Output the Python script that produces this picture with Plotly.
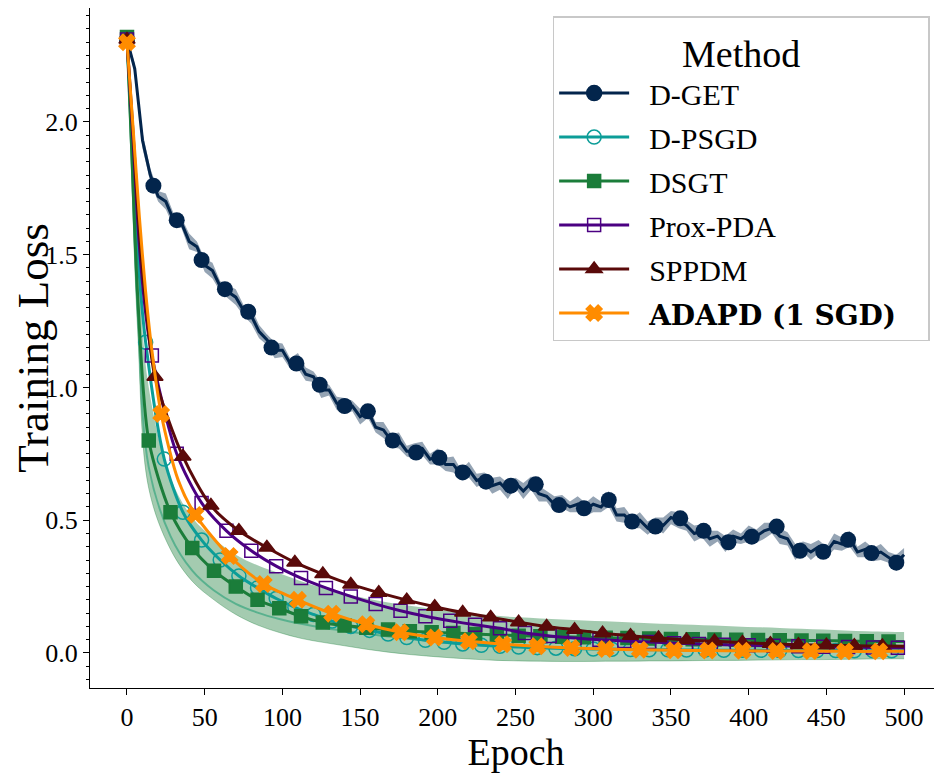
import plotly.graph_objects as go

# ---- data ----
# D-GET (noisy curve, every 5 epochs) and its markers
dget_epochs = list(range(0, 501, 5))
dget_loss = [2.31, 2.20, 1.93, 1.80, 1.72, 1.70, 1.63, 1.62, 1.55, 1.53,
             1.46, 1.44, 1.38, 1.36, 1.34, 1.29, 1.27, 1.21, 1.18, 1.14,
             1.14, 1.09, 1.10, 1.05, 1.04, 0.99, 0.99, 0.94, 0.93, 0.93,
             0.89, 0.91, 0.85, 0.84, 0.80, 0.80, 0.76, 0.76, 0.77, 0.73,
             0.74, 0.71, 0.71, 0.67, 0.69, 0.65, 0.66, 0.63, 0.64, 0.61,
             0.64, 0.61, 0.64, 0.60, 0.59, 0.56, 0.57, 0.55, 0.56, 0.54,
             0.56, 0.55, 0.58, 0.52, 0.52, 0.49, 0.50, 0.47, 0.49, 0.48,
             0.51, 0.50, 0.48, 0.45, 0.46, 0.43, 0.44, 0.41, 0.44, 0.43,
             0.45, 0.44, 0.46, 0.47, 0.44, 0.43, 0.38, 0.40, 0.38, 0.40,
             0.38, 0.42, 0.41, 0.43, 0.38, 0.39, 0.37, 0.38, 0.36, 0.34,
             0.37]
dget_spread = [0.005, 0.02, 0.03, 0.025, 0.02, 0.03, 0.025, 0.02, 0.03, 0.02,
               0.025, 0.03, 0.02, 0.025, 0.03, 0.02, 0.03, 0.025, 0.02, 0.03,
               0.025, 0.02, 0.03, 0.025, 0.02, 0.03, 0.02, 0.025, 0.03, 0.02,
               0.03, 0.025, 0.02, 0.03, 0.025, 0.03, 0.02, 0.03, 0.025, 0.02,
               0.03, 0.025, 0.03, 0.02, 0.03, 0.025, 0.02, 0.03, 0.025, 0.03,
               0.02, 0.03, 0.025, 0.03, 0.02, 0.03, 0.025, 0.02, 0.03, 0.025,
               0.03, 0.02, 0.03, 0.025, 0.03, 0.02, 0.03, 0.025, 0.02, 0.03,
               0.025, 0.03, 0.02, 0.03, 0.025, 0.03, 0.02, 0.03, 0.025, 0.02,
               0.03, 0.025, 0.03, 0.02, 0.03, 0.025, 0.03, 0.02, 0.03, 0.025,
               0.02, 0.03, 0.025, 0.03, 0.02, 0.03, 0.025, 0.03, 0.02, 0.03,
               0.025]
dget_mark_epochs = [0, 17, 32, 48, 63, 78, 93, 109, 124, 140, 155, 171, 186, 201,
                    216, 231, 247, 263, 278, 294, 310, 325, 340, 356, 371, 387,
                    402, 418, 433, 448, 464, 479, 495]
dget_mark_loss = [2.31, 1.76, 1.63, 1.48, 1.37, 1.285, 1.15, 1.09, 1.01, 0.93,
                  0.91, 0.80, 0.755, 0.735, 0.68, 0.645, 0.63, 0.635, 0.557,
                  0.545, 0.576, 0.495, 0.476, 0.507, 0.46, 0.417, 0.438, 0.476,
                  0.385, 0.381, 0.426, 0.376, 0.34]

# D-PSGD
psgd_epochs = [0, 4, 8] + list(range(12, 493, 12)) + [500]
psgd_loss = [2.31, 1.86, 1.42, 1.17, 0.73, 0.53, 0.425, 0.35, 0.29, 0.245,
             0.205, 0.172, 0.145, 0.12, 0.10, 0.085, 0.071, 0.058, 0.048,
             0.040, 0.034, 0.029, 0.025, 0.022, 0.020, 0.018, 0.016, 0.015,
             0.014, 0.013, 0.012, 0.012, 0.011, 0.011, 0.010, 0.010, 0.010,
             0.009, 0.009, 0.009, 0.009, 0.008, 0.008, 0.008, 0.008]
psgd_step = 12

# DSGT with its shaded band
dsgt_epochs = [0, 3, 7] + list(range(14, 491, 14)) + [500]
dsgt_loss = [2.32, 1.90, 1.33, 0.80, 0.53, 0.395, 0.31, 0.25, 0.20, 0.168,
             0.138, 0.115, 0.103, 0.095, 0.088, 0.082, 0.078, 0.075, 0.071,
             0.068, 0.065, 0.063, 0.061, 0.059, 0.057, 0.056, 0.054, 0.053,
             0.052, 0.051, 0.050, 0.049, 0.048, 0.047, 0.046, 0.045, 0.044,
             0.043, 0.043]
dsgt_hi = [2.34, 1.98, 1.50, 1.00, 0.66, 0.51, 0.43, 0.37, 0.33, 0.30,
           0.27, 0.245, 0.225, 0.205, 0.19, 0.178, 0.166, 0.155, 0.148,
           0.140, 0.134, 0.130, 0.126, 0.122, 0.119, 0.116, 0.112, 0.109,
           0.106, 0.103, 0.100, 0.097, 0.094, 0.091, 0.088, 0.085, 0.082,
           0.080, 0.079]
dsgt_lo = [2.30, 1.80, 1.20, 0.62, 0.39, 0.27, 0.20, 0.145, 0.105, 0.077,
           0.055, 0.040, 0.027, 0.014, 0.003, -0.006, -0.013, -0.019, -0.024,
           -0.028, -0.030, -0.031, -0.032, -0.032, -0.031, -0.031, -0.030,
           -0.030, -0.029, -0.028, -0.028, -0.027, -0.026, -0.025, -0.025,
           -0.024, -0.023, -0.022, -0.022]
dsgt_inner = [2.31, 1.85, 1.27, 0.70, 0.44, 0.31, 0.235, 0.185, 0.152, 0.128,
              0.11, 0.095, 0.083, 0.072, 0.062, 0.053, 0.046, 0.040, 0.035,
              0.030, 0.026, 0.023, 0.020, 0.018, 0.016, 0.014, 0.013, 0.012,
              0.011, 0.010, 0.009, 0.009, 0.008, 0.008, 0.007, 0.007, 0.007,
              0.006, 0.006]
dsgt_step = 14

# Prox-PDA
prox_epochs = [0, 4, 8, 12] + list(range(16, 497, 16)) + [500]
prox_loss = [2.31, 1.92, 1.53, 1.28, 1.12, 0.75, 0.565, 0.46, 0.385, 0.327,
             0.282, 0.245, 0.213, 0.184, 0.159, 0.138, 0.121, 0.106, 0.093,
             0.075, 0.064, 0.056, 0.050, 0.045, 0.041, 0.037, 0.034, 0.031,
             0.029, 0.027, 0.025, 0.023, 0.022, 0.021, 0.020, 0.020]
prox_step = 16

# SPPDM
sppdm_epochs = [0, 4, 8, 12] + list(range(18, 487, 18)) + [500]
sppdm_loss = [2.31, 1.95, 1.58, 1.32, 1.04, 0.74, 0.555, 0.46, 0.397, 0.341,
              0.297, 0.258, 0.227, 0.199, 0.174, 0.152, 0.134, 0.116, 0.100,
              0.087, 0.074, 0.065, 0.056, 0.049, 0.044, 0.039, 0.035, 0.031,
              0.029, 0.027, 0.026, 0.025]
sppdm_step = 18

# ADAPD (1 SGD)
adapd_epochs = [0, 4, 8, 12, 16, 22, 33] + list(range(44, 485, 22)) + [500]
adapd_loss = [2.30, 1.97, 1.64, 1.36, 1.14, 0.90, 0.65, 0.52, 0.365, 0.26,
              0.20, 0.148, 0.108, 0.078, 0.058, 0.044, 0.033, 0.025, 0.019,
              0.015, 0.012, 0.010, 0.009, 0.008, 0.007, 0.007, 0.006, 0.006,
              0.006]
adapd_step = 22

FONT = 'Liberation Serif'
C_DGET = '#03254c'
C_PSGD = '#0c9d98'
C_DSGT = '#1b7d3a'
C_PROX = '#4b0082'
C_SPPDM = '#5a0a0a'
C_ADAPD = '#ff8c00'


def marks(epochs, loss, step):
    xs = [e for e in epochs if e % step == 0 and e < 500]
    ys = [v for e, v in zip(epochs, loss) if e % step == 0 and e < 500]
    return xs, ys


fig = go.Figure()

# D-GET band + line + markers
fig.add_trace(go.Scatter(x=dget_epochs, y=[v + s for v, s in zip(dget_loss, dget_spread)],
                         mode='lines', line=dict(width=0), showlegend=False, hoverinfo='skip'))
fig.add_trace(go.Scatter(x=dget_epochs, y=[v - s for v, s in zip(dget_loss, dget_spread)],
                         mode='lines', line=dict(width=0), fill='tonexty',
                         fillcolor='rgba(3,37,76,0.42)', showlegend=False, hoverinfo='skip'))
fig.add_trace(go.Scatter(x=dget_epochs, y=dget_loss, mode='lines',
                         line=dict(color=C_DGET, width=3), showlegend=False))
fig.add_trace(go.Scatter(x=dget_mark_epochs, y=dget_mark_loss, mode='markers',
                         marker=dict(symbol='circle', size=16, color=C_DGET), showlegend=False))

# DSGT band
fig.add_trace(go.Scatter(x=dsgt_epochs, y=dsgt_hi, mode='lines', line=dict(width=0, shape='spline'),
                         showlegend=False, hoverinfo='skip'))
fig.add_trace(go.Scatter(x=dsgt_epochs, y=dsgt_lo, mode='lines',
                         line=dict(width=1, color='rgba(27,125,58,0.35)', shape='spline'),
                         fill='tonexty', fillcolor='rgba(27,125,58,0.4)',
                         showlegend=False, hoverinfo='skip'))
fig.add_trace(go.Scatter(x=dsgt_epochs, y=dsgt_inner, mode='lines',
                         line=dict(width=2, color='rgba(40,160,120,0.6)', shape='spline'),
                         showlegend=False, hoverinfo='skip'))

series = [
    ('D-PSGD', psgd_epochs, psgd_loss, psgd_step, C_PSGD, 'circle-open', 14),
    ('DSGT', dsgt_epochs, dsgt_loss, dsgt_step, C_DSGT, 'square', 13),
    ('Prox-PDA', prox_epochs, prox_loss, prox_step, C_PROX, 'square-open', 13),
    ('SPPDM', sppdm_epochs, sppdm_loss, sppdm_step, C_SPPDM, 'triangle-up', 14),
    ('ADAPD (1 SGD)', adapd_epochs, adapd_loss, adapd_step, C_ADAPD, 'x', 14),
]

for name, ep, loss, step, col, sym, size in series:
    fig.add_trace(go.Scatter(x=ep, y=loss, mode='lines',
                             line=dict(color=col, width=3, shape='spline', smoothing=0.8),
                             showlegend=False))
    mx, my = marks(ep, loss, step)
    fig.add_trace(go.Scatter(x=mx, y=my, mode='markers',
                             marker=dict(symbol=sym, size=size, color=col,
                                         line=dict(width=1.5, color=col)),
                             showlegend=False))

# legend entries
legend_items = [('D-GET', C_DGET, 'circle', 15)] + [(s[0], s[4], s[5], s[6]) for s in series]
for name, col, sym, size in legend_items:
    if name.startswith('ADAPD'):
        label = ("&nbsp;&nbsp;<span style=\"font-family:'DejaVu Serif';font-size:28px\"><b>"
                 + name + "</b>&nbsp;&nbsp;&nbsp;</span>")
    else:
        label = '&nbsp;&nbsp;' + name
    fig.add_trace(go.Scatter(x=[None], y=[None], mode='lines+markers', name=label,
                             legendgroup=name,
                             line=dict(color=col, width=3),
                             marker=dict(symbol=sym, size=size, color=col,
                                         line=dict(width=1.5, color=col))))

# the page body adds an 8px offset, so the figure is laid out 8px smaller
fig.update_layout(
    width=934, height=765,
    margin=dict(l=82, r=0, t=0, b=85),
    plot_bgcolor='white', paper_bgcolor='white',
    font=dict(family=FONT, color='black', size=26),
    legend=dict(
        x=0.543, y=0.988, xanchor='left', yanchor='top',
        bgcolor='white', bordercolor='#c8c8c8', borderwidth=1.5,
        font=dict(family=FONT, size=30, color='black'),
        title=dict(text='Method', font=dict(family=FONT, size=38), side='top center'),
        tracegroupgap=2, itemwidth=70,
    ),
    xaxis=dict(
        title=dict(text='Epoch', font=dict(family=FONT, size=38), standoff=10),
        range=[-23.8, 524.4], tickvals=list(range(0, 501, 50)), automargin=False,
        showgrid=False, zeroline=False, showline=True, linecolor='black', linewidth=1.3,
        ticks='outside', ticklen=6, tickcolor='black', tickfont=dict(size=26),
    ),
    yaxis=dict(
        title=dict(text='Training Loss', font=dict(family=FONT, size=45), standoff=26),
        range=[-0.132, 2.429], tickvals=[0.0, 0.5, 1.0, 1.5, 2.0], tickformat='.1f',
        automargin=False,
        showgrid=False, zeroline=False, showline=True, linecolor='black', linewidth=1.3,
        ticks='outside', ticklen=6, tickcolor='black', tickfont=dict(size=26),
        minor=dict(dtick=0.05, ticks='outside', ticklen=3, tickcolor='black'),
    ),
)

fig.write_html("out.html")
